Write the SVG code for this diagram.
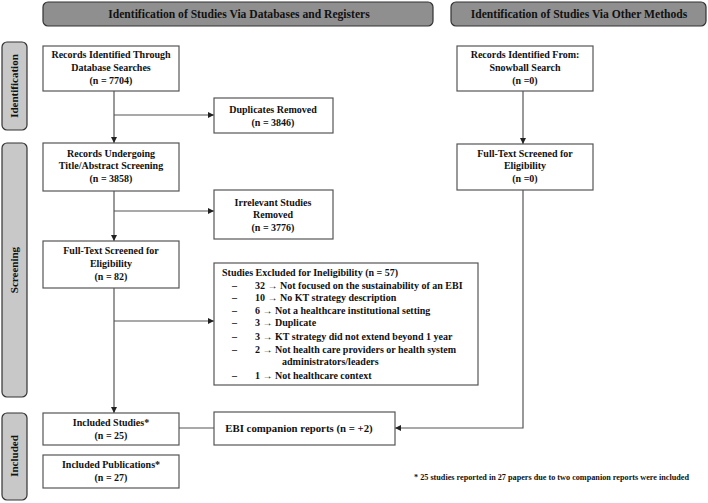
<svg xmlns="http://www.w3.org/2000/svg" width="708" height="503" viewBox="0 0 708 503">
<defs>
<style>
text{font-family:"Liberation Serif","Times New Roman",serif;font-weight:bold;fill:#111}
.box{fill:#fff;stroke:#555;stroke-width:1.2}
.hdr{fill:#8f8f8f;stroke:#333;stroke-width:1.2}
.side{fill:#c8c8c8;stroke:#333;stroke-width:1.2}
.t{font-size:10px;text-anchor:middle}
.h{font-size:11.6px;text-anchor:middle}
.s{font-size:11px;text-anchor:middle}
.l{font-size:10px}
.ln{fill:none;stroke:#555;stroke-width:1.2}
</style>
<marker id="ar" viewBox="0 0 10 10" refX="10" refY="5" markerWidth="6" markerHeight="6" orient="auto" markerUnits="userSpaceOnUse">
<path d="M0,0 L10,5 L0,10 z" fill="#222"/>
</marker>
</defs>
<rect width="708" height="503" fill="#fff"/>
<g id="header1"><rect class="hdr" x="43" y="2" width="390" height="24" rx="5"/><text class="h" x="239" y="18">Identification of Studies Via Databases and Registers</text></g>
<g id="header2"><rect class="hdr" x="451" y="2" width="255" height="24" rx="5"/><text class="h" x="579" y="18">Identification of Studies Via Other Methods</text></g>
<g id="side-identification"><rect class="side" x="2" y="42" width="25" height="88" rx="5"/><text class="s" transform="translate(18,86) rotate(-90)">Identification</text></g>
<g id="side-screening"><rect class="side" x="2" y="143" width="25" height="254" rx="5"/><text class="s" transform="translate(18,270) rotate(-90)">Screening</text></g>
<g id="side-included"><rect class="side" x="2" y="413" width="25" height="87" rx="5"/><text class="s" transform="translate(18,456) rotate(-90)">Included</text></g>
<g id="connectors">
<path class="ln" d="M114,91 V143" marker-end="url(#ar)"/>
<path class="ln" d="M114,115 H214" marker-end="url(#ar)"/>
<path class="ln" d="M114,191 V241" marker-end="url(#ar)"/>
<path class="ln" d="M114,211 H214" marker-end="url(#ar)"/>
<path class="ln" d="M114,288 V413" marker-end="url(#ar)"/>
<path class="ln" d="M114,321 H214" marker-end="url(#ar)"/>
<path class="ln" d="M179,428 H214"/>
<path class="ln" d="M523,91 V144" marker-end="url(#ar)"/>
<path class="ln" d="M523,190 V428 H395" marker-end="url(#ar)"/>
</g>
<g id="n-db"><rect class="box" x="43" y="46" width="136" height="45"/><text class="t" x="111" y="58">Records Identified Through</text><text class="t" x="111" y="71">Database Searches</text><text class="t" x="111" y="84">(n = 7704)</text></g>
<g id="n-dup"><rect class="box" x="214" y="98" width="119" height="35"/><text class="t" x="273" y="113">Duplicates Removed</text><text class="t" x="273" y="126">(n = 3846)</text></g>
<g id="n-title"><rect class="box" x="43" y="143" width="136" height="48"/><text class="t" x="111" y="157">Records Undergoing</text><text class="t" x="111" y="169">Title/Abstract Screening</text><text class="t" x="111" y="182">(n = 3858)</text></g>
<g id="n-irr"><rect class="box" x="214" y="190" width="119" height="49"/><text class="t" x="273" y="206">Irrelevant Studies</text><text class="t" x="273" y="218">Removed</text><text class="t" x="273" y="231">(n = 3776)</text></g>
<g id="n-ft"><rect class="box" x="43" y="241" width="136" height="47"/><text class="t" x="111" y="254">Full-Text Screened for</text><text class="t" x="111" y="267">Eligibility</text><text class="t" x="111" y="280">(n = 82)</text></g>
<g id="n-excl"><rect class="box" x="214" y="263" width="264" height="122"/>
<text class="l" x="222" y="276">Studies Excluded for Ineligibility  (n = 57)</text>
<text class="l" x="232" y="289">–</text><text class="l" x="255" y="289">32 → Not focused on the sustainability of an EBI</text>
<text class="l" x="232" y="301">–</text><text class="l" x="255" y="301">10 → No KT strategy description</text>
<text class="l" x="232" y="314">–</text><text class="l" x="255" y="314">6 → Not a healthcare institutional setting</text>
<text class="l" x="232" y="326">–</text><text class="l" x="255" y="326">3 → Duplicate</text>
<text class="l" x="232" y="340">–</text><text class="l" x="255" y="340">3 → KT strategy did not extend beyond 1 year</text>
<text class="l" x="232" y="353">–</text><text class="l" x="255" y="353">2 →  Not health care providers or health system</text>
<text class="l" x="282" y="365">administrators/leaders</text>
<text class="l" x="232" y="379">–</text><text class="l" x="255" y="379">1 →  Not healthcare context</text>
</g>
<g id="n-inc"><rect class="box" x="43" y="413" width="136" height="32"/><text class="t" x="111" y="426">Included Studies*</text><text class="t" x="111" y="439">(n = 25)</text></g>
<g id="n-pub"><rect class="box" x="43" y="455" width="136" height="33"/><text class="t" x="111" y="468">Included Publications*</text><text class="t" x="111" y="481">(n = 27)</text></g>
<g id="n-ebi"><rect class="box" x="214" y="412" width="181" height="33"/><text class="t" x="299" y="432" style="font-size:10.8px">EBI companion reports (n = +2)</text></g>
<g id="n-snow"><rect class="box" x="457" y="46" width="136" height="45"/><text class="t" x="525" y="58">Records Identified From:</text><text class="t" x="525" y="71">Snowball Search</text><text class="t" x="525" y="84">(n =0)</text></g>
<g id="n-ft2"><rect class="box" x="457" y="144" width="136" height="46"/><text class="t" x="525" y="157">Full-Text Screened for</text><text class="t" x="525" y="169">Eligibility</text><text class="t" x="525" y="182">(n =0)</text></g>
<g id="footnote"><text x="414" y="480" style="font-size:8.2px">* 25 studies reported in 27 papers due to two companion reports were included</text></g>
</svg>
